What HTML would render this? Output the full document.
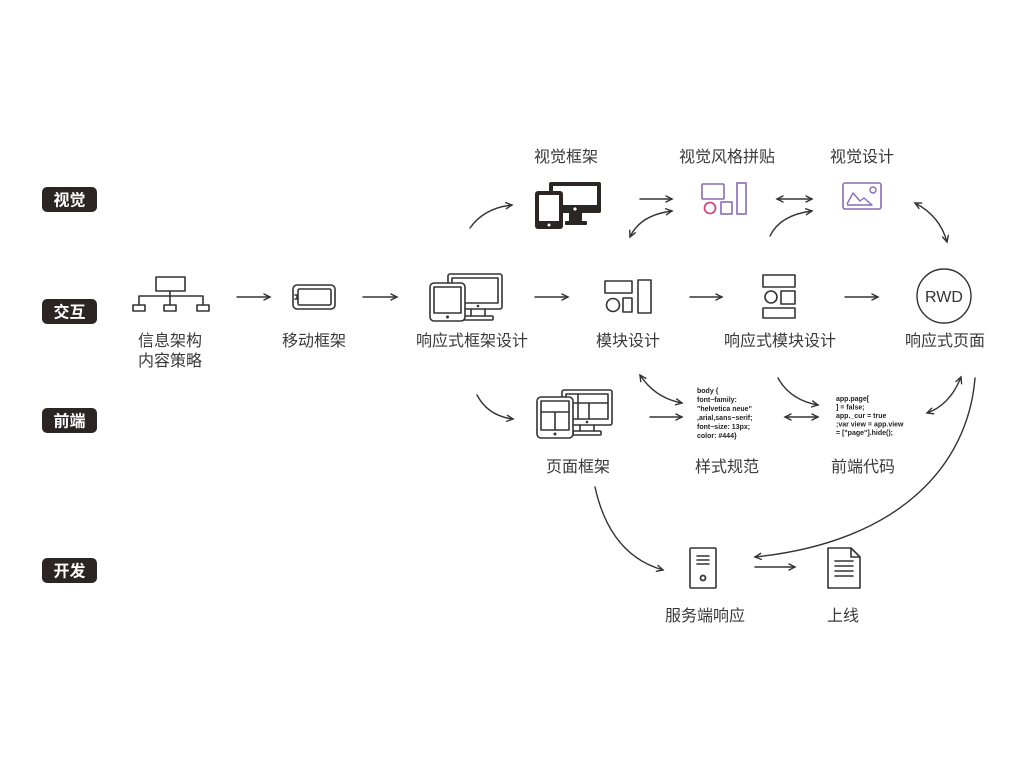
<!DOCTYPE html>
<html>
<head>
<meta charset="utf-8">
<style>
html,body{margin:0;padding:0;background:#fff;}
body{width:1024px;height:768px;overflow:hidden;}
svg{display:block;}
.lbl{font-family:"Liberation Sans","Noto Sans CJK SC",sans-serif;font-size:16px;fill:#3a3a3a;text-anchor:middle;}
.badge{font-family:"Liberation Sans","Noto Sans CJK SC",sans-serif;font-size:16px;fill:#fff;text-anchor:middle;font-weight:bold;}
.code{font-family:"Liberation Sans",sans-serif;font-size:7px;fill:#222;font-weight:bold;}
.s{fill:none;stroke:#333;stroke-width:1.6;stroke-linecap:round;stroke-linejoin:round;}
.a{fill:none;stroke:#333;stroke-width:1.4;stroke-linecap:round;}
</style>
</head>
<body>
<svg width="1024" height="768" viewBox="0 0 1024 768" xmlns="http://www.w3.org/2000/svg">
<defs>
<marker id="ah" markerUnits="userSpaceOnUse" markerWidth="10" markerHeight="10" refX="7" refY="4" orient="auto-start-reverse">
<path d="M1,1 L7,4 L1,7" fill="none" stroke="#333" stroke-width="1.4" stroke-linecap="round"/>
</marker>
</defs>
<rect width="1024" height="768" fill="#fff"/>

<!-- Row badges -->
<rect x="42" y="187" width="55" height="25" rx="5" fill="#2b2523"/>
<text class="badge" x="69.5" y="205.5">视觉</text>
<rect x="42" y="299" width="55" height="25" rx="5" fill="#2b2523"/>
<text class="badge" x="69.5" y="317.5">交互</text>
<rect x="42" y="408" width="55" height="25" rx="5" fill="#2b2523"/>
<text class="badge" x="69.5" y="426.5">前端</text>
<rect x="42" y="558" width="55" height="25" rx="5" fill="#2b2523"/>
<text class="badge" x="69.5" y="576.5">开发</text>

<!-- Top labels -->
<text class="lbl" x="566" y="162">视觉框架</text>
<text class="lbl" x="727" y="162">视觉风格拼贴</text>
<text class="lbl" x="862" y="162">视觉设计</text>

<!-- Visual frame icon (filled) -->
<rect x="549" y="182" width="52" height="31" rx="2" fill="#2b2523"/>
<rect x="553" y="186" width="44" height="19" fill="#fff"/>
<circle cx="575" cy="209" r="1.6" fill="#fff"/>
<rect x="569" y="212" width="13" height="10" fill="#2b2523"/>
<rect x="565" y="221" width="22" height="4" rx="1" fill="#2b2523"/>
<rect x="535" y="191" width="28" height="38" rx="3" fill="#2b2523"/>
<rect x="539" y="195" width="20" height="26" fill="#fff"/>
<circle cx="549" cy="225" r="1.5" fill="#fff"/>

<!-- Visual collage icon -->
<rect x="702" y="184" width="22" height="15" rx="1" fill="none" stroke="#8a6bb8" stroke-width="1.6"/>
<circle cx="710" cy="208" r="5.5" fill="none" stroke="#d0487f" stroke-width="1.8"/>
<rect x="721" y="202" width="11" height="12" fill="none" stroke="#8a6bb8" stroke-width="1.6"/>
<rect x="737" y="183" width="9" height="31" fill="none" stroke="#8a6bb8" stroke-width="1.6"/>

<!-- Visual design icon -->
<rect x="843" y="183" width="38" height="26" rx="2" fill="none" stroke="#8a6bb8" stroke-width="1.6"/>
<path d="M847,204 L853,193 L860,201 L864,198 L872,205 L847,205" fill="none" stroke="#8a6bb8" stroke-width="1.4" stroke-linejoin="round"/>
<circle cx="873" cy="190" r="3" fill="none" stroke="#8a6bb8" stroke-width="1.4"/>

<!-- Top arrows -->
<path class="a" d="M470,228 Q484,208 512,205" marker-end="url(#ah)"/>
<path class="a" d="M640,199 L672,199" marker-end="url(#ah)"/>
<path class="a" d="M630,237 Q640,215 672,211" marker-start="url(#ah)" marker-end="url(#ah)"/>
<path class="a" d="M777,199 L812,199" marker-start="url(#ah)" marker-end="url(#ah)"/>
<path class="a" d="M770,236 Q780,215 812,211" marker-end="url(#ah)"/>
<path class="a" d="M915,203 Q940,216 947,242" marker-start="url(#ah)" marker-end="url(#ah)"/>

<!-- org chart -->
<rect x="156" y="277" width="29" height="14" class="s"/>
<path class="s" d="M170,291 L170,296 M139,296 L203,296 M139,296 L139,305 M170,296 L170,305 M203,296 L203,305"/>
<rect x="133" y="305" width="12" height="6" class="s"/>
<rect x="164" y="305" width="12" height="6" class="s"/>
<rect x="197" y="305" width="12" height="6" class="s"/>
<text class="lbl" x="170" y="346">信息架构</text>
<text class="lbl" x="170" y="366">内容策略</text>

<path class="a" d="M237,297 L270,297" marker-end="url(#ah)"/>

<!-- mobile -->
<rect x="293" y="285" width="42" height="24" rx="4" class="s"/>
<rect x="298" y="289" width="33" height="16" rx="1.5" class="s"/>
<path class="s" d="M295,295 L297,295 L297,299 L295,299"/>
<text class="lbl" x="314" y="346">移动框架</text>

<path class="a" d="M363,297 L397,297" marker-end="url(#ah)"/>

<!-- responsive frame (outline) -->
<rect x="448" y="274" width="54" height="35" rx="2" class="s"/>
<rect x="452" y="278" width="46" height="25" class="s"/>
<circle cx="478" cy="306" r="1.3" fill="#333"/>
<path class="s" d="M471,309 L471,316 M485,309 L485,316"/>
<rect x="463" y="316" width="30" height="4" rx="1" class="s"/>
<rect x="430" y="283" width="35" height="38" rx="4" fill="#fff" stroke="#333" stroke-width="1.6"/>
<rect x="434" y="287" width="27" height="26" class="s"/>
<circle cx="447.5" cy="317" r="1.5" fill="#333"/>
<text class="lbl" x="472" y="346">响应式框架设计</text>

<path class="a" d="M535,297 L568,297" marker-end="url(#ah)"/>

<!-- module design -->
<rect x="605" y="281" width="27" height="12" class="s"/>
<circle cx="613" cy="305" r="6.5" class="s"/>
<rect x="623" y="298" width="9" height="14" class="s"/>
<rect x="638" y="280" width="13" height="33" class="s"/>
<text class="lbl" x="628" y="346">模块设计</text>

<path class="a" d="M690,297 L722,297" marker-end="url(#ah)"/>

<!-- responsive module -->
<rect x="763" y="275" width="32" height="12" class="s"/>
<circle cx="771" cy="297" r="6" class="s"/>
<rect x="781" y="291" width="14" height="13" class="s"/>
<rect x="763" y="308" width="32" height="10" class="s"/>
<text class="lbl" x="780" y="346">响应式模块设计</text>

<path class="a" d="M845,297 L878,297" marker-end="url(#ah)"/>

<!-- RWD -->
<circle cx="944" cy="296" r="27" fill="none" stroke="#333" stroke-width="1.4"/>
<text x="944" y="302" text-anchor="middle" font-family="Liberation Sans, sans-serif" font-size="16" fill="#333">RWD</text>
<text class="lbl" x="945" y="346">响应式页面</text>

<!-- Front-end row -->
<path class="a" d="M477,395 Q488,416 513,419" marker-end="url(#ah)"/>

<!-- page frame -->
<rect x="562" y="390" width="50" height="35" rx="2" class="s"/>
<rect x="566" y="394" width="42" height="25" class="s"/>
<path class="s" d="M566,403 L608,403 M578,394 L578,419 M589,403 L589,419"/>
<circle cx="587" cy="422" r="1.3" fill="#333"/>
<path class="s" d="M580,425 L580,431 M594,425 L594,431"/>
<rect x="573" y="431" width="28" height="4" rx="1" class="s"/>
<rect x="537" y="397" width="36" height="41" rx="4" fill="#fff" stroke="#333" stroke-width="1.6"/>
<rect x="541" y="401" width="28" height="29" class="s"/>
<path class="s" d="M541,412 L569,412 M555,412 L555,430"/>
<circle cx="555" cy="434" r="1.5" fill="#333"/>
<text class="lbl" x="578" y="472">页面框架</text>

<path class="a" d="M640,375 Q655,398 682,403" marker-start="url(#ah)" marker-end="url(#ah)"/>
<path class="a" d="M650,417 L682,417" marker-end="url(#ah)"/>

<!-- style spec code -->
<text class="code" x="697" y="393">body {</text>
<text class="code" x="697" y="402">font−family:</text>
<text class="code" x="697" y="411">"helvetica neue"</text>
<text class="code" x="697" y="420">,arial,sans−serif;</text>
<text class="code" x="697" y="429">font−size: 13px;</text>
<text class="code" x="697" y="438">color: #444}</text>
<text class="lbl" x="727" y="472">样式规范</text>

<path class="a" d="M778,378 Q790,400 818,405" marker-end="url(#ah)"/>
<path class="a" d="M785,417 L818,417" marker-start="url(#ah)" marker-end="url(#ah)"/>

<!-- frontend code -->
<text class="code" x="836" y="401">app.page[</text>
<text class="code" x="836" y="409.5">] = false;</text>
<text class="code" x="836" y="418">app._cur = true</text>
<text class="code" x="836" y="426.5">;var view = app.view</text>
<text class="code" x="836" y="435"> = ["page"].hide();</text>
<text class="lbl" x="863" y="472">前端代码</text>

<path class="a" d="M961,377 Q950,405 927,413" marker-start="url(#ah)" marker-end="url(#ah)"/>

<!-- big curve -->
<path class="a" d="M975,378 C968,465 900,542 755,557" marker-end="url(#ah)"/>
<path class="a" d="M595,487 Q610,555 663,570" marker-end="url(#ah)"/>

<!-- server -->
<rect x="690" y="548" width="26" height="40" rx="1" class="s"/>
<path class="s" d="M697,556 L709,556 M697,560 L709,560 M697,564 L709,564"/>
<circle cx="703" cy="578" r="2.5" fill="none" stroke="#333" stroke-width="1.8"/>
<text class="lbl" x="705" y="621">服务端响应</text>

<path class="a" d="M755,567 L795,567" marker-end="url(#ah)"/>

<!-- document -->
<path class="s" d="M828,548 L851,548 L860,557 L860,588 L828,588 Z M851,548 L851,557 L860,557"/>
<path class="s" d="M835,561 L853,561 M835,566 L853,566 M835,571 L853,571 M835,576 L853,576"/>
<text class="lbl" x="843" y="621">上线</text>
</svg>
</body>
</html>
